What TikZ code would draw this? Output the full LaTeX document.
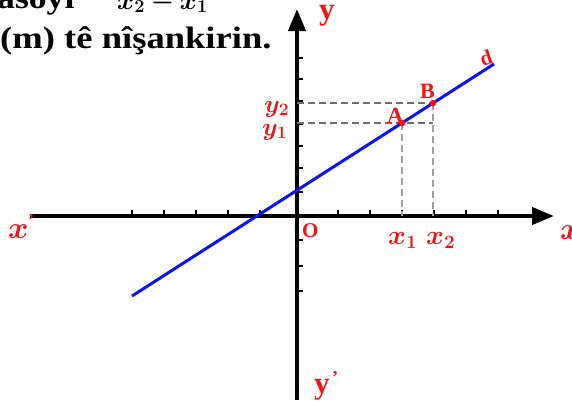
\documentclass[tikz,border=0pt]{standalone}
\usepackage{fix-cm}
\usepackage{amsmath}
\usepackage{bm}
\usepackage{fontspec}
\setmainfont{Liberation Serif}
\usepackage{xcolor}
\definecolor{LineBlue}{HTML}{0A14F0}
\definecolor{LabelRed}{HTML}{F01414}
\definecolor{GuideGray}{HTML}{6E6E6E}
\definecolor{LightGray}{HTML}{A0A0A0}
\usetikzlibrary{arrows.meta, calc}

\begin{document}
\begin{tikzpicture}[x=1pt, y=-1pt, >={Triangle[length=22pt, width=17pt]},
  axis/.style={->, line width=4pt},
  tickmark/.style={line width=1.6pt},
  guide/.style={GuideGray, line width=1.3pt, dash pattern=on 7pt off 4pt},
  vguide/.style={LightGray, line width=1.2pt, dash pattern=on 7pt off 4pt},
  redlbl/.style={text=LabelRed, inner sep=0pt, anchor=base west},
  headtext/.style={inner sep=0pt, anchor=base west, font=\fontsize{31}{36}\selectfont\bfseries}]
  \useasboundingbox (0,0) rectangle (572,405);

  % Heading text, cut by the top edge
  \begin{scope}
    \clip (0,0) rectangle (572,405);
    \node[headtext, xscale=1.15] (cut1) at (-3,8) {asoyî};
    \node[headtext, font=\fontsize{26}{30}\selectfont] (cut2) at (117,9) {$\bm{x_2 - x_1}$};
    \node[headtext, xscale=1.18] (head) at (0,48) {(m) tê nîşankirin.};
  \end{scope}

  % Axes
  \coordinate (O) at (297,216);
  \coordinate (xl) at (30,216);
  \coordinate (xr) at (554,216);
  \coordinate (yt) at (297,9);
  \coordinate (yb) at (297,400);
  \draw[axis] (xl) -- (xr);
  \draw[axis] (yb) -- (yt);

  % Ticks
  \foreach \x in {132,164,196,228,260,338,370,402,434,466,498}
    \draw[tickmark] (\x,214) -- (\x,210);
  \foreach \y in {58,79,101,124,146,168,192,240,266,291}
    \draw[tickmark] (299,\y) -- (303,\y);

  % Line d
  \coordinate (d1) at (132,296);
  \coordinate (d2) at (494,64);
  \coordinate (A) at ($(d1)!0.7459!(d2)$);
  \coordinate (B) at ($(d1)!0.8315!(d2)$);
  \draw[guide] (B -| O) -- (B);
  \draw[guide] (A -| O) -- (A -| B);
  \draw[vguide] (A) -- (A |- O);
  \draw[vguide] (B) -- (B |- O);
  \draw[LineBlue, line width=3pt] (d1) -- (d2);
  \fill[LabelRed] (A) circle (3.3pt);
  \fill[LabelRed] (B) circle (3.3pt);

  % Labels
  \node[redlbl, font=\fontsize{23}{26}\selectfont\bfseries] (lblA) at (387,123) {A};
  \node[redlbl, font=\fontsize{22}{26}\selectfont\bfseries] (lblB) at (420,98) {B};
  \node[redlbl, font=\fontsize{21}{24}\selectfont\bfseries, anchor=center, rotate=18] (lbld) at (486,58) {d};
  \node[redlbl, font=\fontsize{21}{24}\selectfont\bfseries] (lblO) at (302,237) {O};
  \node[redlbl, font=\fontsize{27}{30}\selectfont] (lblx1) at (388,244) {$\bm{x_1}$};
  \node[redlbl, font=\fontsize{27}{30}\selectfont] (lblx2) at (426,244) {$\bm{x_2}$};
  \node[redlbl, font=\fontsize{25}{28}\selectfont] (lbly2) at (264,112) {$\bm{y_2}$};
  \node[redlbl, font=\fontsize{25}{28}\selectfont] (lbly1) at (262,135) {$\bm{y_1}$};
  \node[redlbl, font=\fontsize{31}{34}\selectfont] (lblxl) at (8,238) {$\bm{x}$};
  \node[redlbl, font=\fontsize{18}{20}\selectfont\bfseries] (lblxlp) at (28,226) {'};
  \node[redlbl, font=\fontsize{31}{34}\selectfont] (lblxr) at (560,239) {$\bm{x}$};
  \node[redlbl, font=\fontsize{31}{34}\selectfont\bfseries] (lblyt) at (319,19) {y};
  \node[redlbl, font=\fontsize{31}{34}\selectfont\bfseries] (lblyb) at (314,393) {y};
  \node[redlbl, font=\fontsize{18}{20}\selectfont\bfseries] (lblybp) at (332,383) {'};
\end{tikzpicture}
\end{document}
